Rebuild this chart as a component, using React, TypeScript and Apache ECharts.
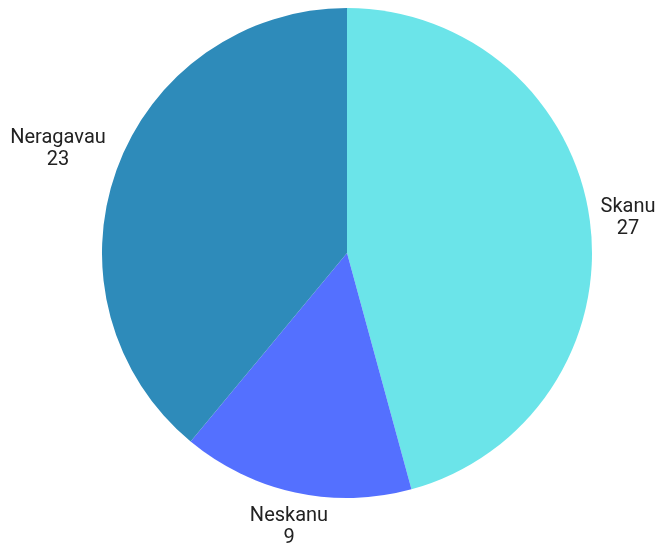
import React, { useEffect, useRef } from "react";
import * as echarts from "echarts";

const categories = ["Skanu", "Neskanu", "Neragavau"];
const values = [27, 9, 23];
const colors = ["#6BE4E9", "#5470FF", "#2E8BBA"];

// label block centres (layout only)
const labelCenters = [
  [628, 216],
  [289, 525],
  [58, 147],
];

export default function App() {
  const ref = useRef<HTMLDivElement>(null);
  useEffect(() => {
    if (!ref.current) return;
    const chart = echarts.init(ref.current, undefined, { renderer: "svg" });
    chart.setOption({
      animation: false,
      series: [
        {
          type: "pie",
          center: [347, 253],
          radius: 245,
          startAngle: 90,
          clockwise: true,
          data: categories.map((c, i) => ({
            name: c,
            value: values[i],
            itemStyle: { color: colors[i] },
          })),
          label: {
            show: true,
            position: "outside",
            formatter: "{b}\n{c}",
            color: "#222222",
            fontSize: 20,
            lineHeight: 22,
            fontFamily: "Roboto",
            overflow: "none",
          },
          labelLine: { show: false },
          labelLayout: (p: any) => ({
            x: labelCenters[p.dataIndex][0],
            y: labelCenters[p.dataIndex][1],
            align: "center",
            verticalAlign: "middle",
          }),
        },
      ],
    });
    return () => chart.dispose();
  }, []);
  return (
    <div
      ref={ref}
      style={{ position: "fixed", left: 0, top: 0, width: 660, height: 549 }}
    />
  );
}
